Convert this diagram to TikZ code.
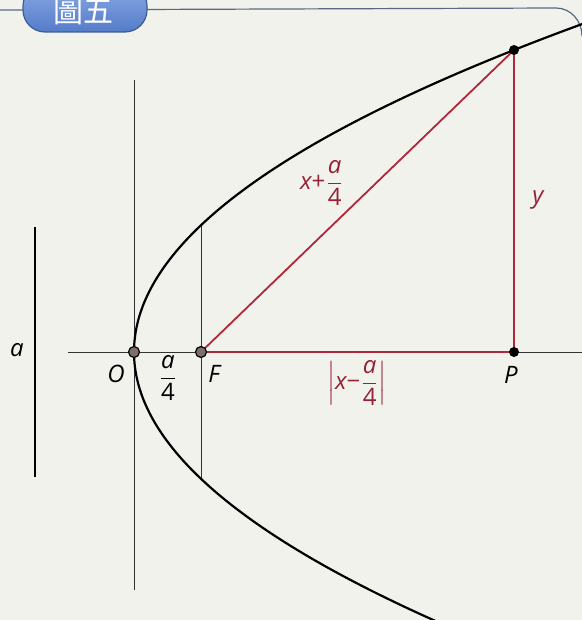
\documentclass[tikz,border=0pt]{standalone}
\usepackage{amsmath}
\usepackage{fontspec}
\setmainfont{Open Sans}
\newfontfamily\cjkfont{Noto Sans CJK TC}
\definecolor{paper}{RGB}{242,242,236}
\definecolor{redline}{RGB}{176,38,58}
\definecolor{redtext}{RGB}{150,34,56}
\definecolor{tabtop}{RGB}{138,170,228}
\definecolor{tabbot}{RGB}{84,124,200}
\definecolor{tabedge}{RGB}{62,92,150}
\definecolor{framecol}{RGB}{88,104,132}
\definecolor{dotfill}{RGB}{128,110,104}
\newcommand{\quarter}{\dfrac{\textit{a}}{\textup{4}}}

\begin{document}
\begin{tikzpicture}[x=0.5pt, y=-0.5pt,
    axis/.style={draw=black!80, line width=0.5pt},
    curve/.style={draw=black, line width=1.1pt},
    side/.style={draw=redline, line width=0.9pt},
    lab/.style={font=\fontsize{12}{14}\selectfont\itshape, inner sep=1pt},
    rlab/.style={lab, text=redtext},
    hole/.style={circle, draw=black, fill=dotfill, line width=0.6pt, inner sep=0pt, minimum size=5.5pt},
    blackdot/.style={circle, fill=black, inner sep=0pt, minimum size=5pt},
    tab/.style={draw=tabedge, line width=0.6pt, rounded corners=11pt, top color=tabtop, bottom color=tabbot,
      minimum width=62pt, minimum height=24pt},
    tabtext/.style={text=white, inner sep=0pt, font=\cjkfont\fontsize{15}{15}\selectfont}]
    % paper and frame
    \fill[paper] (0,0) rectangle (582,620);
    \useasboundingbox (0,0) rectangle (582,620);
    \clip (0,0) rectangle (582,620);
    \coordinate (fl) at (0,10);
    \coordinate (fc) at (556,8);
    \coordinate (fr) at (582,36);
    \draw[framecol, line width=0.6pt] (fl) -- (fc) to[out=0, in=90] (fr);
    \node[tab] (tab) at (85,8) {};
    \node[tabtext] (title) at (83,12) {圖五};
    % points
    \coordinate (o) at (134,352);
    \coordinate (f) at (201,352);
    \coordinate (p) at (514,352);
    \coordinate (q) at (514,50);
    % axes and latus rectum
    \coordinate (axl) at (68,352);
    \coordinate (axr) at (582,352);
    \coordinate (yt) at (134,80);
    \coordinate (yb) at (134,590);
    \coordinate (lt) at (201,226);
    \coordinate (lb) at (201,478);
    \draw[axis] (axl) -- (axr);
    \draw[axis] (yt) -- (yb);
    \draw[axis] (lt) -- (lb);
    % parabola
    \draw[curve] plot[domain=-27:33, samples=90, smooth] ({134+\x*\x/2.4},{352-10*\x});
    % the triangle
    \draw[side] (f) -- (q) -- (p) -- cycle;
    % length a
    \coordinate (at) at (35,227);
    \coordinate (ab) at (35,477);
    \draw[line width=1.1pt] (at) -- (ab);
    % dots
    \node[hole] (O) at (o) {};
    \node[hole] (F) at (f) {};
    \node[blackdot] (P) at (p) {};
    \node[blackdot] (Q) at (q) {};
    % labels
    \node[lab] (la) at (17,350) {a};
    \node[lab] (lO) at (116,374) {O};
    \node[lab] (lq) at (168,378) {$\quarter$};
    \node[lab] (lF) at (214,374) {F};
    \node[lab] (lP) at (511,375) {P};
    \node[rlab] (lhyp) at (322,183) {$\text{x}\textup{+}\quarter$};
    \node[rlab] (ly) at (538,200) {y};
    \node[rlab] (lbase) at (357,383) {$\left|\text{x}\textup{−}\quarter\right|$};
\end{tikzpicture}
\end{document}
